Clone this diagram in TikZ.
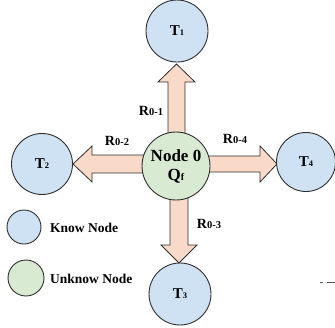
\documentclass[tikz,border=0pt]{standalone}
\usepackage{fontspec}
\setmainfont{Liberation Serif}
\definecolor{knowblue}{HTML}{CFE2F3}
\definecolor{unkgreen}{HTML}{D9EAD3}
\definecolor{peach}{HTML}{F9D9C8}
\definecolor{edgegray}{HTML}{2E2E2E}
\newcommand\rlab[1]{{\fontsize{14}{14}\selectfont\bfseries R\fontsize{10.5}{10}\selectfont #1}}
\newcommand\tlab[1]{{\fontsize{15}{15}\selectfont\bfseries T\fontsize{8.5}{8}\selectfont #1}}
\begin{document}
\begin{tikzpicture}[x=1pt,y=-1pt,
  knownode/.style={circle,draw=edgegray,line width=0.9pt,fill=knowblue,inner sep=0pt},
  unknode/.style={circle,draw=edgegray,line width=0.9pt,fill=unkgreen,inner sep=0pt},
  barrow/.style={draw=edgegray,line width=0.8pt,fill=peach,line join=miter},
  lab/.style={inner sep=0pt},
  legtext/.style={inner sep=0pt,anchor=west,font=\fontsize{13.5}{14}\selectfont\bfseries}]
\useasboundingbox (0,0) rectangle (335,327);
% block arrows
\draw[barrow] (168,140) -- (168,82) -- (158,82) -- (176.5,64) -- (195,82) -- (185,82) -- (185,140) -- cycle;
\draw[barrow] (150,155) -- (92,155) -- (92,146) -- (73,164) -- (92,182) -- (92,173) -- (150,173) -- cycle;
\draw[barrow] (200,156) -- (260,156) -- (260,146) -- (277,164) -- (260,182) -- (260,172) -- (200,172) -- cycle;
\draw[barrow] (170,190) -- (170,245) -- (161,245) -- (179,263) -- (197,245) -- (188,245) -- (188,190) -- cycle;
% nodes
\node[unknode,minimum size=68pt,align=center,
  font=\fontsize{17}{19}\selectfont\bfseries] (n0) at (176,166)
  {Node 0\\Q{\fontsize{10}{10}\selectfont f}};
\node[knownode,minimum size=62pt] (t1) at (177,31) {\tlab{1}};
\node[knownode,minimum size=61pt] (t2) at (42,164) {\tlab{2}};
\node[knownode,minimum size=62pt] (t3) at (180,294) {\tlab{3}};
\node[knownode,minimum size=59pt] (t4) at (306,162) {\tlab{4}};
% arrow labels
\node[lab] (r01) at (151,111) {\rlab{0-1}};
\node[lab] (r02) at (117,141) {\rlab{0-2}};
\node[lab] (r04) at (235,139) {\rlab{0-4}};
\node[lab] (r03) at (209,224) {\rlab{0-3}};
% legend
\node[knownode,minimum size=34pt] (lk) at (24,227) {};
\node[unknode,minimum size=36pt] (lu) at (26,278) {};
\node[legtext] (lkt) at (50,228) {Know Node};
\node[legtext] (lut) at (50,279) {Unknow Node};
% dashed fragment
\coordinate (d0) at (320,282);
\coordinate (d1) at (336,282);
\draw[edgegray!80,line width=1pt,dash pattern=on 3pt off 4pt on 12pt] (d0) -- (d1);
\end{tikzpicture}
\end{document}
